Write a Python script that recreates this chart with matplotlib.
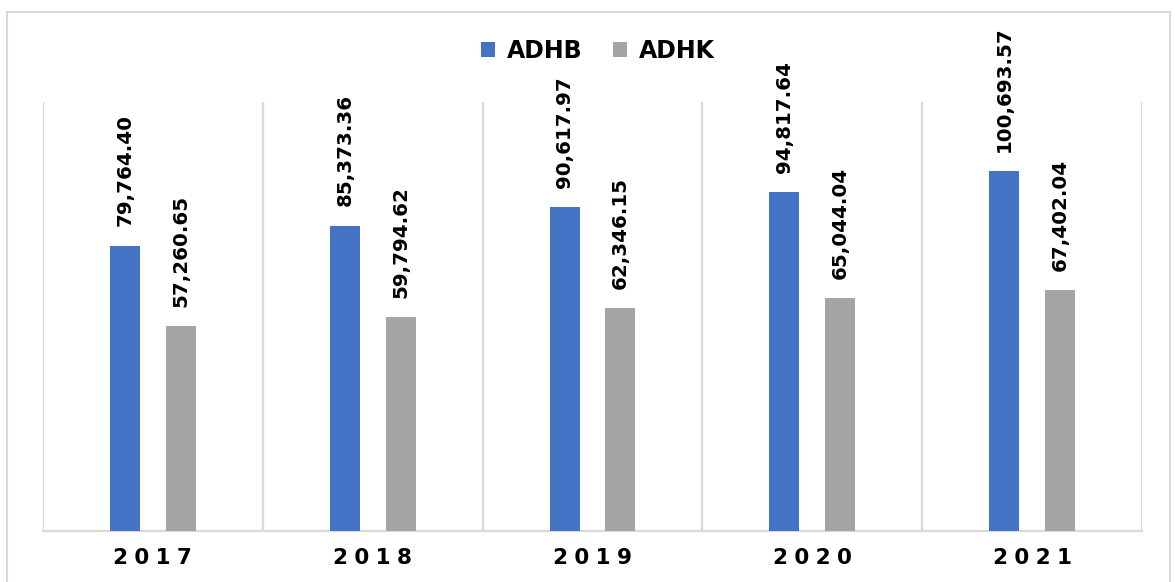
import numpy as np
import matplotlib

matplotlib.use("Agg")
import matplotlib.pyplot as plt  # noqa: E402
from matplotlib.patches import Rectangle  # noqa: E402

years = ["2017", "2018", "2019", "2020", "2021"]
adhb = [79764.40, 85373.36, 90617.97, 94817.64, 100693.57]
adhk = [57260.65, 59794.62, 62346.15, 65044.04, 67402.04]

BLUE, GRAY, GRID = "#4472c4", "#a5a5a5", "#d9d9d9"

fig = plt.figure(figsize=(11.75, 5.82), dpi=100, facecolor="white")
ax = fig.add_axes([43 / 1175, 51 / 582, 1099 / 1175, 429 / 582])

x = np.arange(len(years))
w, off = 0.136, 0.127
b1 = ax.bar(x - off, adhb, w, color=BLUE, label="ADHB", zorder=3)
b2 = ax.bar(x + off, adhk, w, color=GRAY, label="ADHK", zorder=3)

for bars, vals in ((b1, adhb), (b2, adhk)):
    for r, v in zip(bars, vals):
        ax.annotate(f"{v:,.2f}", (r.get_x() + r.get_width() / 2, v), xytext=(0, 14),
                    textcoords="offset points", rotation=90, ha="center", va="bottom",
                    fontsize=14.3, fontweight="bold", color="black")

ax.set_xlim(-0.5, len(years) - 0.5)
ax.set_ylim(0, 120000)
for b in np.arange(-0.5, len(years), 1.0):
    ax.axvline(b, color=GRID, lw=1.6, zorder=1)
for s in ("top", "right", "left"):
    ax.spines[s].set_visible(False)
ax.spines["bottom"].set_color(GRID)
ax.spines["bottom"].set_linewidth(1.6)
ax.set_yticks([])
ax.set_xticks(x)
ax.set_xticklabels(["\u2009\u200a".join(y) for y in years], fontsize=15.5, fontweight="bold")
ax.tick_params(axis="x", length=0, pad=12)

fig.legend(loc="center", bbox_to_anchor=(598 / 1175, 1 - 51 / 582), ncol=2, frameon=False,
           prop={"weight": "bold", "size": 17}, handlelength=0.6, handleheight=0.6,
           handletextpad=0.5, columnspacing=1.3)

fig.patches.append(Rectangle((7 / 1175, -0.01), 1163 / 1175, 1 - 12 / 582 + 0.01,
                             transform=fig.transFigure, fill=False, edgecolor=GRID, lw=1.5))

fig.savefig("out.png", dpi=100, facecolor="white")
